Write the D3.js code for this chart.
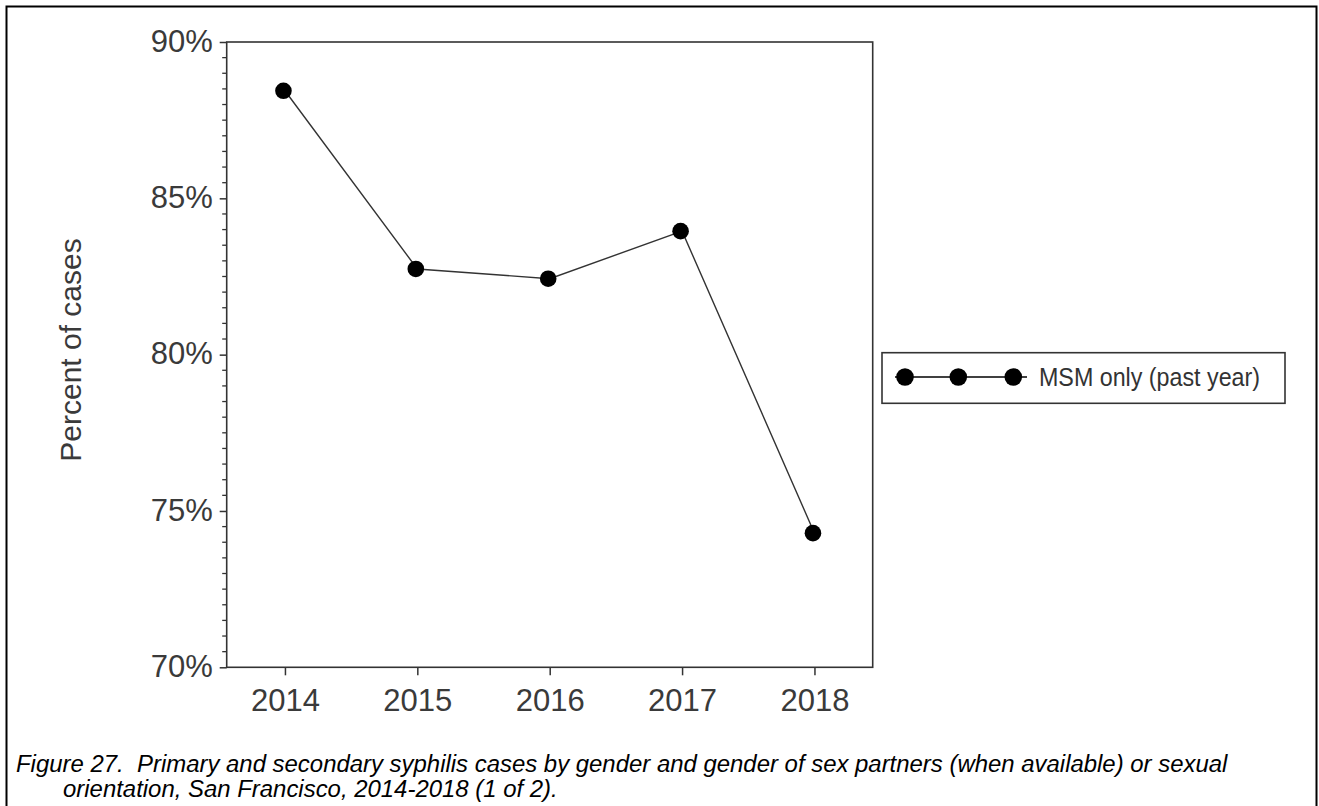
<!DOCTYPE html>
<html>
<head>
<meta charset="utf-8">
<script src="https://cdn.jsdelivr.net/npm/d3@7"></script>
<style>
  html, body { margin: 0; padding: 0; background: #fff; }
  svg { display: block; }
  text { font-family: "Liberation Sans", Arial, sans-serif; }
</style>
</head>
<body>
<svg id="chart" width="1319" height="806"></svg>
<script>
// ---- data ----
const years = ["2014", "2015", "2016", "2017", "2018"];
const msmOnly = [88.44, 82.74, 82.43, 83.95, 74.29];
const yTicks = [70, 75, 80, 85, 90];
const seriesName = "MSM only (past year)";
const yTitle = "Percent of cases";
const captionLines = [
  "Figure 27.  Primary and secondary syphilis cases by gender and gender of sex partners (when available) or sexual",
  "orientation, San Francisco, 2014-2018 (1 of 2)."
];

// ---- layout ----
const plot = { left: 226.7, right: 872.7, top: 42, bottom: 667.3 };
const svg = d3.select("#chart");

// outer frame (bottom edge runs off the page)
svg.append("rect")
  .attr("x", 6.5).attr("y", 6.5)
  .attr("width", 1310).attr("height", 840)
  .attr("fill", "none").attr("stroke", "#000").attr("stroke-width", 2);

const x = d3.scalePoint().domain(years).range([plot.left, plot.right]).padding(0.44);
const y = d3.scaleLinear().domain([70, 90]).range([plot.bottom, plot.top]);

// minor y ticks every 0.5%
const minorTicks = d3.range(70, 90.001, 0.5).filter(v => Math.abs(v % 5) > 1e-6);
const gMinor = svg.append("g").attr("transform", `translate(${plot.left},0)`);
gMinor.selectAll("line").data(minorTicks).join("line")
  .attr("x1", -4.5).attr("x2", 0)
  .attr("y1", d => y(d)).attr("y2", d => y(d))
  .attr("stroke", "#333").attr("stroke-width", 1.3);

// y axis
const yAxis = svg.append("g")
  .attr("transform", `translate(${plot.left},0)`)
  .call(d3.axisLeft(y).tickValues(yTicks).tickFormat(d => d + "%").tickSize(7).tickPadding(7));
yAxis.select(".domain").remove();
yAxis.selectAll(".tick line").attr("stroke", "#333").attr("stroke-width", 1.5);
yAxis.selectAll(".tick text")
  .attr("fill", "#3a3a3a").style("font-size", "31px")
  .attr("dy", "0.30em");

// x axis
const xAxis = svg.append("g")
  .attr("transform", `translate(0,${plot.bottom})`)
  .call(d3.axisBottom(x).tickSize(8).tickPadding(14));
xAxis.select(".domain").remove();
xAxis.selectAll(".tick line").attr("stroke", "#333").attr("stroke-width", 1.5);
xAxis.selectAll(".tick text")
  .attr("fill", "#3a3a3a").style("font-size", "31px");

// plot frame
svg.append("rect")
  .attr("x", plot.left).attr("y", plot.top)
  .attr("width", plot.right - plot.left).attr("height", plot.bottom - plot.top)
  .attr("fill", "none").attr("stroke", "#333").attr("stroke-width", 1.6);

// y title
svg.append("text")
  .attr("transform", `translate(81,350) rotate(-90)`)
  .attr("text-anchor", "middle")
  .attr("fill", "#3a3a3a")
  .style("font-size", "30px")
  .text(yTitle);

// series
const data = years.map((yr, i) => ({ yr, v: msmOnly[i] }));
svg.append("path")
  .datum(data)
  .attr("fill", "none").attr("stroke", "#333").attr("stroke-width", 1.4)
  .attr("d", d3.line().x(d => x(d.yr)).y(d => y(d.v)));
svg.append("g").selectAll("circle").data(data).join("circle")
  .attr("cx", d => x(d.yr) - 1.5).attr("cy", d => y(d.v))
  .attr("r", 8.3).attr("fill", "#000");

// legend
const lg = svg.append("g");
lg.append("rect")
  .attr("x", 882).attr("y", 352.7).attr("width", 403).attr("height", 50.6)
  .attr("fill", "#fff").attr("stroke", "#333").attr("stroke-width", 1.6);
lg.append("line")
  .attr("x1", 895).attr("x2", 1027).attr("y1", 377).attr("y2", 377)
  .attr("stroke", "#000").attr("stroke-width", 1.5);
[905, 958.3, 1013.3].forEach(cx => {
  lg.append("circle").attr("cx", cx).attr("cy", 377).attr("r", 8.8).attr("fill", "#000");
});
lg.append("text")
  .attr("x", 1039).attr("y", 377)
  .attr("dy", "0.35em")
  .attr("fill", "#333")
  .style("font-size", "25px")
  .attr("textLength", 221).attr("lengthAdjust", "spacingAndGlyphs")
  .text(seriesName);

// caption
const cap = svg.append("g");
const c1 = cap.append("text").attr("x", 16).attr("y", 772)
  .style("font-size", "22px").style("font-style", "italic").style("white-space", "pre")
  .attr("fill", "#000")
  .text(captionLines[0]);
const nat = c1.node().getComputedTextLength();
const fs = 22 * 1212 / nat;
c1.style("font-size", fs + "px");
cap.append("text").attr("x", 63).attr("y", 797)
  .style("font-size", fs + "px").style("font-style", "italic").style("white-space", "pre")
  .attr("fill", "#000")
  .text(captionLines[1]);
</script>
</body>
</html>
